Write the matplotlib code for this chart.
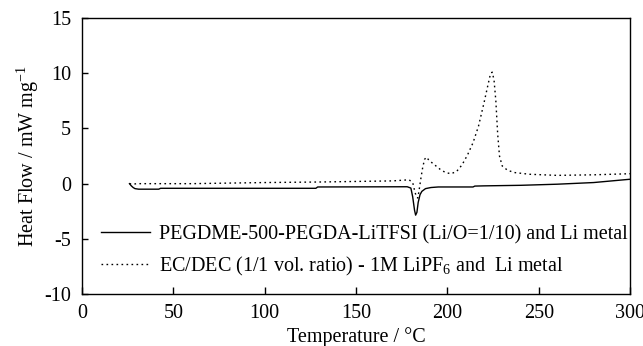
import matplotlib
matplotlib.use("Agg")
import matplotlib.pyplot as plt
import numpy as np

plt.rcParams['font.family'] = ['Liberation Serif', 'DejaVu Serif']
plt.rcParams['mathtext.fontset'] = 'custom'
plt.rcParams['mathtext.rm'] = 'Liberation Serif'
plt.rcParams['axes.unicode_minus'] = False

# DSC traces: temperature (degC) and heat flow (mW/mg)
temp_polymer = [26, 27, 28, 29, 31, 42, 43, 128, 129, 178, 180, 181, 182, 182.6,
                183.3, 184, 185, 186, 188, 191, 195, 200, 210, 214, 215, 220,
                240, 260, 280, 290, 300]
flow_polymer = [0.0, -0.2, -0.35, -0.45, -0.5, -0.5, -0.42, -0.42, -0.3, -0.28,
                -0.4, -1.2, -2.4, -2.85, -2.6, -1.7, -1.0, -0.7, -0.45, -0.35,
                -0.3, -0.3, -0.3, -0.3, -0.22, -0.2, -0.15, -0.05, 0.1, 0.25, 0.4]

temp_liquid = [26, 28, 30, 60, 100, 130, 150, 170, 179, 181, 182, 183, 183.8,
               184.5, 185.5, 186.5, 187.5, 188.5, 190, 193, 196, 199, 202, 205,
               208, 211, 214, 217, 220, 222, 223.5, 224.5, 225.5, 226.5, 227.5,
               228.5, 230, 233, 237, 245, 260, 280, 300]
flow_liquid = [0.0, -0.05, 0.0, 0.0, 0.1, 0.15, 0.2, 0.25, 0.35, 0.1, -0.6, -1.2,
               -1.3, -0.6, 0.5, 1.5, 2.2, 2.4, 2.1, 1.7, 1.3, 1.0, 0.9, 1.1, 1.7,
               2.6, 3.7, 5.2, 7.3, 8.8, 9.9, 10.1, 9.4, 7.5, 4.5, 2.5, 1.6, 1.2,
               1.0, 0.85, 0.75, 0.8, 0.9]

label_polymer = 'PEGDME-500-PEGDA-LiTFSI (Li/O=1/10) and Li metal'
label_liquid = 'EC/DEC (1/1 vol. ratio) - 1M LiPF$_6$ and  Li metal'

fs = 14.5

fig = plt.figure(figsize=(6.43, 3.46), dpi=100)
ax = fig.add_axes([0.1275, 0.150, 0.8525, 0.798])

ax.plot(temp_polymer, flow_polymer, color='black', lw=1.0, label=label_polymer)
ax.plot(temp_liquid, flow_liquid, color='black', lw=1.0,
        linestyle=(0, (1.2, 2.4)), label=label_liquid)

ax.set_xlim(0, 300)
ax.set_ylim(-10, 15)
ax.set_xticks(np.arange(0, 301, 50))
ax.set_yticks(np.arange(-10, 16, 5))
ax.tick_params(axis='x', direction='in', length=5, width=1, labelsize=fs, pad=7)
ax.tick_params(axis='y', direction='in', length=4, width=1, labelsize=fs, pad=8)
for s in ax.spines.values():
    s.set_linewidth(1.0)

ax.set_xlabel('Temperature / °C', fontsize=fs, labelpad=3)
ax.set_ylabel('Heat Flow / mW mg$^{-1}$', fontsize=fs, labelpad=2)

ax.legend(loc='lower left', bbox_to_anchor=(0.035, 0.06), frameon=False,
          fontsize=fs, handlelength=2.4, handletextpad=0.45, labelspacing=0.5,
          borderaxespad=0, borderpad=0)

fig.savefig('out.png', dpi=100, facecolor='white')
